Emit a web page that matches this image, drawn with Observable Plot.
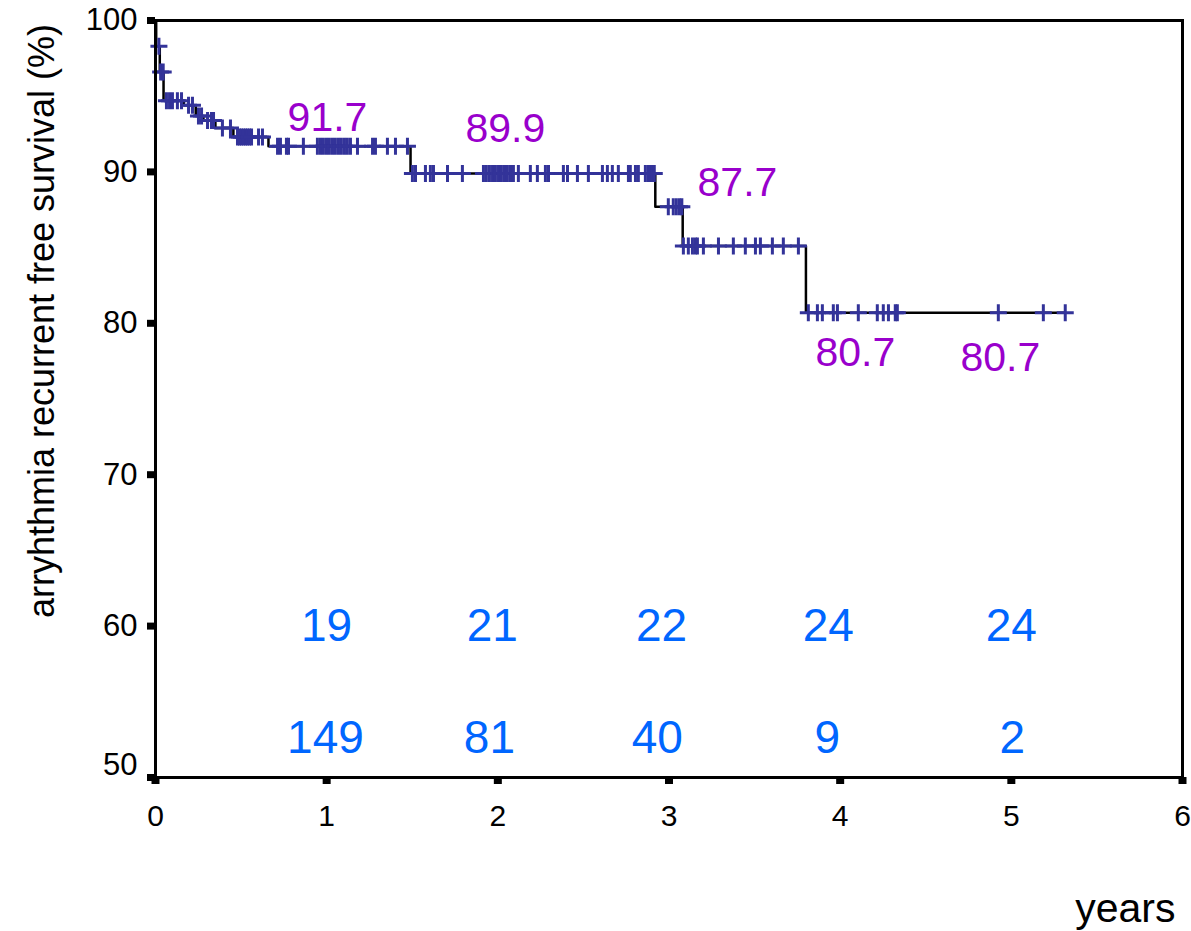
<!DOCTYPE html>
<html>
<head>
<meta charset="utf-8">
<script src="https://cdn.jsdelivr.net/npm/d3@7"></script>
<script src="https://cdn.jsdelivr.net/npm/@observablehq/plot@0.6"></script>
<style>
  html, body { margin: 0; padding: 0; background: #fff; }
</style>
</head>
<body>
<div id="chart"></div>
<script>
// ---- Kaplan-Meier step data (time in years, survival %) ----
const stepTimes = [0, 0.004, 0.025, 0.047, 0.165, 0.235, 0.28, 0.35, 0.455, 0.66, 1.49, 2.92, 3.08, 3.80];
const stepSurv  = [100, 98.3, 96.6, 94.7, 94.4, 93.7, 93.4, 92.9, 92.3, 91.7, 89.9, 87.7, 85.1, 80.7];
const endTime = 5.315;

// ---- censored observations (years) ----
const censorTimes = [
  0.02, 0.03, 0.045,
  0.064, 0.082, 0.099, 0.128, 0.152,
  0.193, 0.216,
  0.251, 0.269,
  0.304, 0.327, 0.339,
  0.391, 0.438,
  0.479, 0.491, 0.502, 0.514, 0.526, 0.537, 0.549, 0.561, 0.602, 0.625,
  0.713, 0.730, 0.765, 0.777, 0.864, 0.946, 0.964, 0.981, 0.999, 1.016, 1.034, 1.051,
  1.069, 1.086, 1.104, 1.121, 1.139, 1.180, 1.268, 1.285, 1.355, 1.402, 1.472,
  1.501, 1.519, 1.577, 1.606, 1.624, 1.706, 1.793, 1.916, 1.933, 1.951, 1.969, 1.986,
  2.004, 2.021, 2.039, 2.056, 2.074, 2.091, 2.120, 2.190, 2.231, 2.278, 2.296, 2.383,
  2.407, 2.465, 2.529, 2.611, 2.640, 2.669, 2.704, 2.763, 2.774, 2.804, 2.821, 2.862,
  2.879, 2.891, 2.903, 2.914,
  2.996, 3.025, 3.043, 3.061, 3.075,
  3.084, 3.113, 3.137, 3.154, 3.166, 3.201, 3.289, 3.376, 3.446, 3.505, 3.534, 3.604,
  3.668, 3.756,
  3.814, 3.867, 3.896, 3.960, 3.984, 4.106, 4.217, 4.252, 4.282, 4.322, 4.334,
  4.924, 5.187, 5.315
];

// ---- annotations ----
const survLabels   = ["91.7", "89.9", "87.7", "80.7", "80.7"];
const survLabelX   = [1.005, 2.044, 3.40, 4.089, 4.936];
const survLabelY   = [93.6, 92.87, 89.3, 78.07, 77.7];

const eventCounts  = [19, 21, 22, 24, 24];
const eventX       = [0.999, 1.968, 2.956, 3.931, 5.0];
const eventY       = 60.0;

const atRisk       = [149, 81, 40, 9, 2];
const atRiskX      = [0.993, 1.951, 2.932, 3.925, 5.006];
const atRiskY      = 52.6;

const xTicks = [0, 1, 2, 3, 4, 5, 6];
const yTicks = [50, 60, 70, 80, 90, 100];

const yTitle = "arryhthmia recurrent free survival (%)";
const xTitle = "years";

// ---- derived tables ----
const lineData = stepTimes.map((t, i) => ({t, s: stepSurv[i]}));
lineData.push({t: endTime, s: stepSurv[stepSurv.length - 1]});

function survAt(t) {
  let s = stepSurv[0];
  for (let i = 0; i < stepTimes.length; i++) if (stepTimes[i] <= t) s = stepSurv[i];
  return s;
}
const censorData = censorTimes.map(t => ({t, s: survAt(t)}));

const survLabelData = survLabels.map((txt, i) => ({txt, x: survLabelX[i], y: survLabelY[i]}));
const eventData = eventCounts.map((n, i) => ({n, x: eventX[i], y: eventY}));
const riskData = atRisk.map((n, i) => ({n, x: atRiskX[i], y: atRiskY}));

const plusSymbol = {
  draw(context, size) {
    const r = Math.sqrt(size / Math.PI);
    context.moveTo(-r, 0); context.lineTo(r, 0);
    context.moveTo(0, -r); context.lineTo(0, r);
  }
};

const chart = Plot.plot({
  width: 1191,
  height: 931,
  marginLeft: 155,
  marginRight: 9,
  marginTop: 20,
  marginBottom: 154,
  style: {fontFamily: "'Liberation Sans', Arial, sans-serif", background: "#fff", color: "#000", overflow: "visible"},
  x: {domain: [0, 6]},
  y: {domain: [50, 100]},
  marks: [
    Plot.axisX({ticks: xTicks, tickSize: 7, strokeWidth: 8, label: null, tickFormat: () => ""}),
    Plot.text(xTicks, {x: d => d, frameAnchor: "bottom", text: d => String(d), dy: 27, fontSize: 30, fill: "#000", lineAnchor: "top"}),
    Plot.axisY({ticks: yTicks, tickSize: 8, tickPadding: 10, strokeWidth: 7, fontSize: 31, label: null,
                tickFormat: d => d === 50 ? "" : String(d)}),
    Plot.text([50], {x: 0, y: d => d, text: d => String(d), dx: -18, dy: -12, textAnchor: "end", fontSize: 31, fill: "#000"}),
    Plot.line(lineData, {x: "t", y: "s", curve: "step-after", stroke: "#000", strokeWidth: 2.5}),
    Plot.dot(censorData, {x: "t", y: "s", symbol: plusSymbol, r: 8.5, stroke: "#333399", strokeWidth: 3}),
    Plot.text(survLabelData, {x: "x", y: "y", text: "txt", fill: "#9900cc", fontSize: 41, lineAnchor: "middle"}),
    Plot.text(eventData, {x: "x", y: "y", text: d => String(d.n), fill: "#0066ff", fontSize: 46, lineAnchor: "middle"}),
    Plot.text(riskData, {x: "x", y: "y", text: d => String(d.n), fill: "#0066ff", fontSize: 46, lineAnchor: "middle"}),
    Plot.text([yTitle], {frameAnchor: "left", text: d => d, rotate: -90, dx: -113, dy: -78, fontSize: 36, fill: "#000", textAnchor: "middle", lineAnchor: "middle"}),
    Plot.text([xTitle], {frameAnchor: "bottom-right", text: d => d, dx: -7, dy: 131, textAnchor: "end", fontSize: 41, fill: "#000", lineAnchor: "middle"}),
    Plot.frame({stroke: "#000", strokeWidth: 3})
  ]
});
document.getElementById("chart").appendChild(chart);
</script>
</body>
</html>
